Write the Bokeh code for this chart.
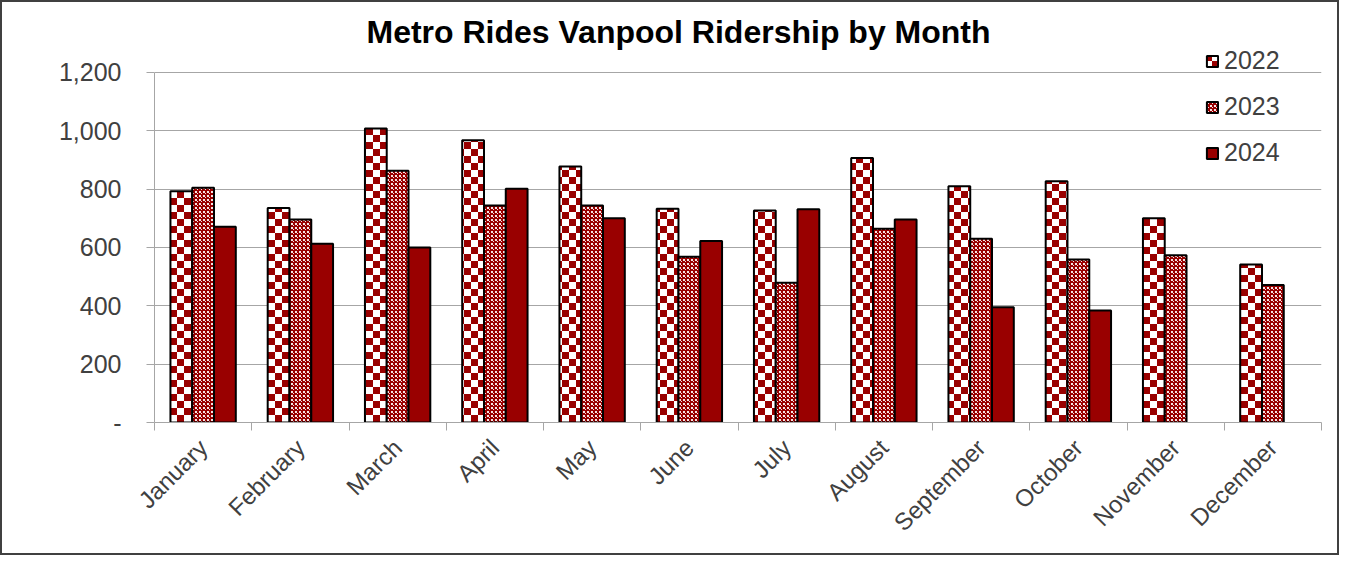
import math
import numpy as np
from bokeh.plotting import figure
from bokeh.models import (ColumnDataSource, Range1d, LinearAxis, Label,
                          FixedTicker, NumeralTickFormatter, CustomJSTickFormatter, Legend,
                          LegendItem, CanvasTexture)
from bokeh.core.properties import value
from bokeh.transform import dodge
from bokeh.embed import file_html
from bokeh.resources import INLINE

months = ["January", "February", "March", "April", "May", "June", "July",
          "August", "September", "October", "November", "December"]
rides_2022 = [793, 735, 1008, 968, 878, 733, 727, 907, 810, 827, 700, 542]
rides_2023 = [805, 696, 863, 744, 744, 568, 479, 664, 630, 559, 573, 471]
rides_2024 = [671, 613, 600, 801, 700, 622, 731, 696, 395, 384, None, None]
y_ticks = [0, 200, 400, 600, 800, 1000, 1200]

RED = "#990000"
FONT = "Liberation Sans"
GRAY_TXT = "#404040"
GRID = "#a6a6a6"
W, H = 1339, 555

n = len(months)
centres = [i + 0.5 for i in range(n)]
src = ColumnDataSource(dict(
    xc=centres,
    month=months,
    y2022=rides_2022,
    y2023=rides_2023,
    y2024=[np.nan if v is None else v for v in rides_2024],
))

# frame extends above 1200 to leave room for title and legend (axis bounded at 1200)
p = figure(x_range=Range1d(0, n), y_range=Range1d(0, 1433),
           width=W, height=H, output_backend="svg", toolbar_location=None,
           x_axis_location=None, min_border_left=152, min_border_right=20,
           min_border_top=2, min_border_bottom=135)
p.styles = {"border": "2px solid #404040", "box-sizing": "border-box"}
p.outline_line_color = None
p.background_fill_color = "white"
for g in p.xgrid:
    g.visible = False

checker = CanvasTexture(code="""
const c = ctx.canvas;
c.width = 14; c.height = 14;
ctx.fillStyle = '#ffffff';
ctx.fillRect(0, 0, 14, 14);
ctx.fillStyle = '#990000';
ctx.fillRect(0, 0, 7, 7);
ctx.fillRect(7, 7, 7, 7);
""")
lattice = CanvasTexture(code="""
const c = ctx.canvas;
c.width = 4; c.height = 4;
ctx.fillStyle = '#990000';
ctx.fillRect(0, 0, 4, 4);
ctx.fillStyle = '#f6e4e4';
ctx.fillRect(1, 1, 2, 2);
ctx.fillRect(3, 3, 1, 1);
""")

bw = 0.224
r1 = p.vbar(x=dodge("xc", -bw), top="y2022", width=bw, source=src,
            fill_color="white", line_color="black", line_width=2,
            hatch_pattern=value("checker"), hatch_extra={"checker": checker},
            hatch_color=RED, hatch_scale=14)
r2 = p.vbar(x=dodge("xc", 0), top="y2023", width=bw, source=src,
            fill_color="white", line_color="black", line_width=2,
            hatch_pattern=value("lattice"), hatch_extra={"lattice": lattice},
            hatch_color=RED, hatch_scale=4)
r3 = p.vbar(x=dodge("xc", bw), top="y2024", width=bw, source=src,
            fill_color=RED, line_color="black", line_width=2)

# y axis
yax = p.yaxis[0]
yax.ticker = FixedTicker(ticks=y_ticks)
yax.bounds = (0, 1200)
yax.formatter = NumeralTickFormatter(format="0,0")
yax.major_label_overrides = {0: "-"}
yax.axis_line_color = GRID
yax.major_tick_line_color = GRID
yax.major_tick_out = 8
yax.major_tick_in = 0
yax.minor_tick_line_color = None
yax.major_label_text_font = FONT
yax.major_label_text_font_size = "25px"
yax.major_label_text_color = GRAY_TXT
yax.major_label_standoff = 25
p.ygrid.grid_line_color = GRID
p.ygrid.ticker = FixedTicker(ticks=y_ticks)

# x axis: tick marks at category boundaries, labels at centres
edge_axis = LinearAxis(ticker=FixedTicker(ticks=list(range(n + 1))),
                       formatter=CustomJSTickFormatter(code="return ''"),
                       axis_line_color=GRID, major_tick_line_color=GRID,
                       major_tick_out=8, major_tick_in=0, minor_tick_line_color=None,
                       major_label_text_font_size="1px", major_label_standoff=0)
p.add_layout(edge_axis, "below")
label_axis = LinearAxis(ticker=FixedTicker(ticks=centres),
                        formatter=CustomJSTickFormatter(args=dict(names=months),
                                                        code="return names[Math.floor(tick)]"),
                        axis_line_color=None, major_tick_line_color=None,
                        minor_tick_line_color=None,
                        major_label_orientation=math.pi / 4,
                        major_label_text_font=FONT, major_label_text_font_size="24px",
                        major_label_text_color=GRAY_TXT, major_label_standoff=7)
p.add_layout(label_axis, "below")

title = Label(x=524, y=391, x_units="screen", y_units="screen",
              text="Metro Rides Vanpool Ridership by Month",
              text_align="center", text_baseline="alphabetic",
              text_font=FONT, text_font_size="32px", text_font_style="bold",
              text_color="black")
p.add_layout(title)

legend = Legend(items=[LegendItem(label="2022", renderers=[r1]),
                       LegendItem(label="2023", renderers=[r2]),
                       LegendItem(label="2024", renderers=[r3])],
                location=(1051, 255), orientation="vertical",
                label_text_font=FONT, label_text_font_size="25px", label_text_color=GRAY_TXT,
                glyph_width=14, glyph_height=14, label_height=28, spacing=17,
                label_standoff=5, padding=0, margin=0,
                background_fill_alpha=0, border_line_alpha=0)
p.add_layout(legend)

open("out.html", "w").write(file_html(p, INLINE))
